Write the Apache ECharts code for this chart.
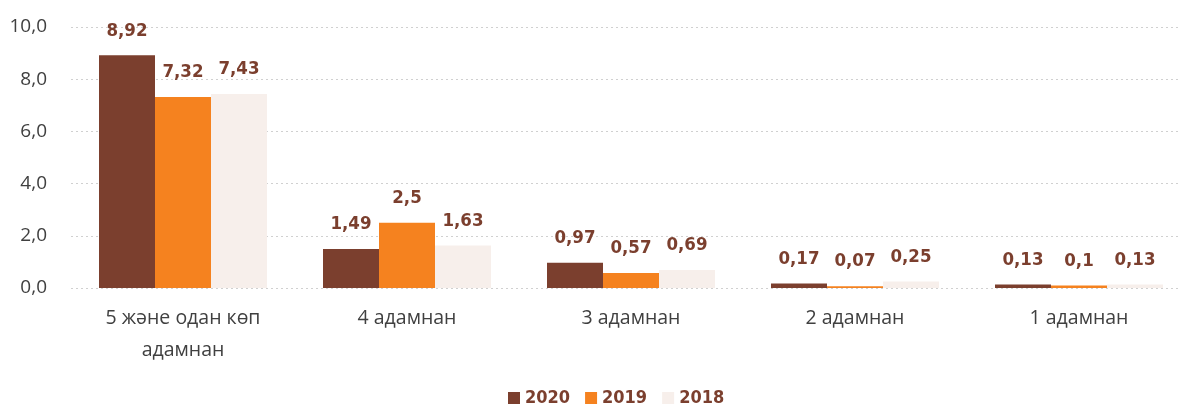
<!DOCTYPE html>
<html>
<head>
<meta charset="utf-8">
<script src="https://cdn.jsdelivr.net/npm/echarts@6/dist/echarts.min.js"></script>
<style>
  html, body { margin: 0; padding: 0; background: #fff; }
  #chart { width: 1179px; height: 408px; }
</style>
</head>
<body>
<div id="chart"></div>
<script>
const categories = ['5 және одан көп\nадамнан', '4 адамнан', '3 адамнан', '2 адамнан', '1 адамнан']
const years = ['2020', '2019', '2018']
const values2020 = [8.92, 1.49, 0.97, 0.17, 0.13]
const values2019 = [7.32, 2.5, 0.57, 0.07, 0.1]
const values2018 = [7.43, 1.63, 0.69, 0.25, 0.13]
const colors = ['#7B3F2E', '#F5821F', '#F7EFEB']

const valueFont = '"DejaVu Sans Condensed", "Roboto", sans-serif'
const fmt = v => String(v).replace('.', ',')

const chart = echarts.init(document.getElementById('chart'))

const makeSeries = (name, data, color) => ({
    name,
    type: 'bar',
    data,
    barWidth: 56,
    barGap: '0%',
    itemStyle: { color },
    label: {
        show: true,
        position: 'top',
        distance: 15,
        color: '#7B3F2E',
        fontFamily: valueFont,
        fontWeight: 'bold',
        fontSize: 18.5,
        formatter: p => fmt(p.value)
    }
})

chart.setOption({
    animation: false,
    grid: { left: 71, top: 27, width: 1120, bottom: 120, outerBoundsMode: 'none' },
    legend: {
        data: years,
        bottom: -4,
        left: 503,
        itemWidth: 12,
        itemHeight: 12,
        itemGap: 15,
        icon: 'rect',
        textStyle: {
            color: '#7B3F2E',
            fontFamily: valueFont,
            fontWeight: 'bold',
            fontSize: 18
        }
    },
    xAxis: {
        type: 'category',
        data: categories,
        axisLine: { show: false },
        axisTick: { show: false },
        axisLabel: {
            color: '#404040',
            fontFamily: '"Open Sans", sans-serif',
            fontSize: 19.5,
            lineHeight: 32,
            margin: 14
        }
    },
    yAxis: {
        type: 'value',
        min: 0,
        max: 10,
        interval: 2,
        axisLabel: {
            color: '#404040',
            fontFamily: '"Open Sans", sans-serif',
            fontSize: 19,
            margin: 24,
            formatter: v => v.toFixed(1).replace('.', ',')
        },
        splitLine: { lineStyle: { color: '#d0d0d0', type: [2, 3], width: 1 } }
    },
    series: [
        makeSeries(years[0], values2020, colors[0]),
        makeSeries(years[1], values2019, colors[1]),
        makeSeries(years[2], values2018, colors[2])
    ]
})
</script>
</body>
</html>
